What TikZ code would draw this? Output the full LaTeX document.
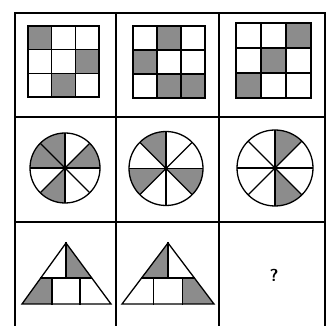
\documentclass[tikz,border=0pt]{standalone}
\usetikzlibrary{calc}
\begin{document}
\begin{tikzpicture}[x=1pt,y=1pt,
  ln/.style={line width=1.3pt,line join=miter,line cap=rect},
  tbl/.style={line width=1.5pt},
  shade/.style={fill=black!45}]
\useasboundingbox (0,0) rectangle (329,326);
\fill[white] (0,0) rectangle (329,326);
% table
\draw[tbl] (15,0) -- (15,313) -- (325,313) -- (325,0);
\draw[tbl] (116,0) -- (116,313);
\draw[tbl] (219,0) -- (219,313);
\draw[tbl] (15,209) -- (325,209);
\draw[tbl] (15,104) -- (325,104);
% grids: left, top, cell, shaded list (col/row)
\foreach \L/\T/\s/\cells in {28/300/23.7/{1/1,3/2,2/3}, 133/300/24/{2/1,1/2,2/3,3/3}, 236/303/25/{3/1,2/2,1/3}}{
  \foreach \c/\r in \cells {
    \fill[shade] ({\L+(\c-1)*\s},{\T-(\r-1)*\s}) rectangle ++(\s,-\s);
  }
  \foreach \i in {1,2} {
    \draw[ln] ({\L+\i*\s},\T) -- ++(0,{-3*\s});
    \draw[ln] (\L,{\T-\i*\s}) -- ++({3*\s},0);
  }
  \draw[ln] (\L,\T) rectangle ++({3*\s},{-3*\s});
}
% circles: cx, cy, r, shaded sector start angles
\foreach \cx/\cy/\R/\secs in {65/158/35/{0,90,135,225}, 166/157.5/37/{90,180,315}, 275/158/38/{45,270}}{
  \foreach \a in \secs {
    \fill[shade] (\cx,\cy) -- ++(\a:\R) arc[start angle=\a,end angle=\a+45,radius=\R] -- cycle;
  }
  \foreach \a in {0,45,...,135} {
    \draw[ln,line cap=butt] ($(\cx,\cy)+(\a:\R)$) -- ($(\cx,\cy)+(\a+180:\R)$);
  }
  \draw[ln] (\cx,\cy) circle[radius=\R];
  \fill (\cx,\cy) circle[radius=2];
}
% triangle 1
\fill[shade] (66,83) -- (66,48) -- (91.5,48) -- cycle;
\fill[shade] (22,22) -- (52,22) -- (52,48) -- (40.5,48) -- cycle;
\draw[ln] (66,83) -- (66,48);
\draw[ln] (40.5,48) -- (91.5,48);
\draw[ln] (52,22) -- (52,48) (80,22) -- (80,48);
\draw[ln] (22,22) -- (111,22) -- (66,83) -- cycle;
% triangle 2
\fill[shade] (168,83) -- (168,48) -- (141.6,48) -- cycle;
\fill[shade] (183,22) -- (214,22) -- (194.4,48) -- (183,48) -- cycle;
\draw[ln] (168,83) -- (168,48);
\draw[ln] (141.6,48) -- (194.4,48);
\draw[ln] (153.5,22) -- (153.5,48) (182.5,22) -- (182.5,48);
\draw[ln] (122,22) -- (214,22) -- (168,83) -- cycle;
\node[font=\sffamily\bfseries\LARGE] (q) at (274,51) {?};
\end{tikzpicture}
\end{document}
